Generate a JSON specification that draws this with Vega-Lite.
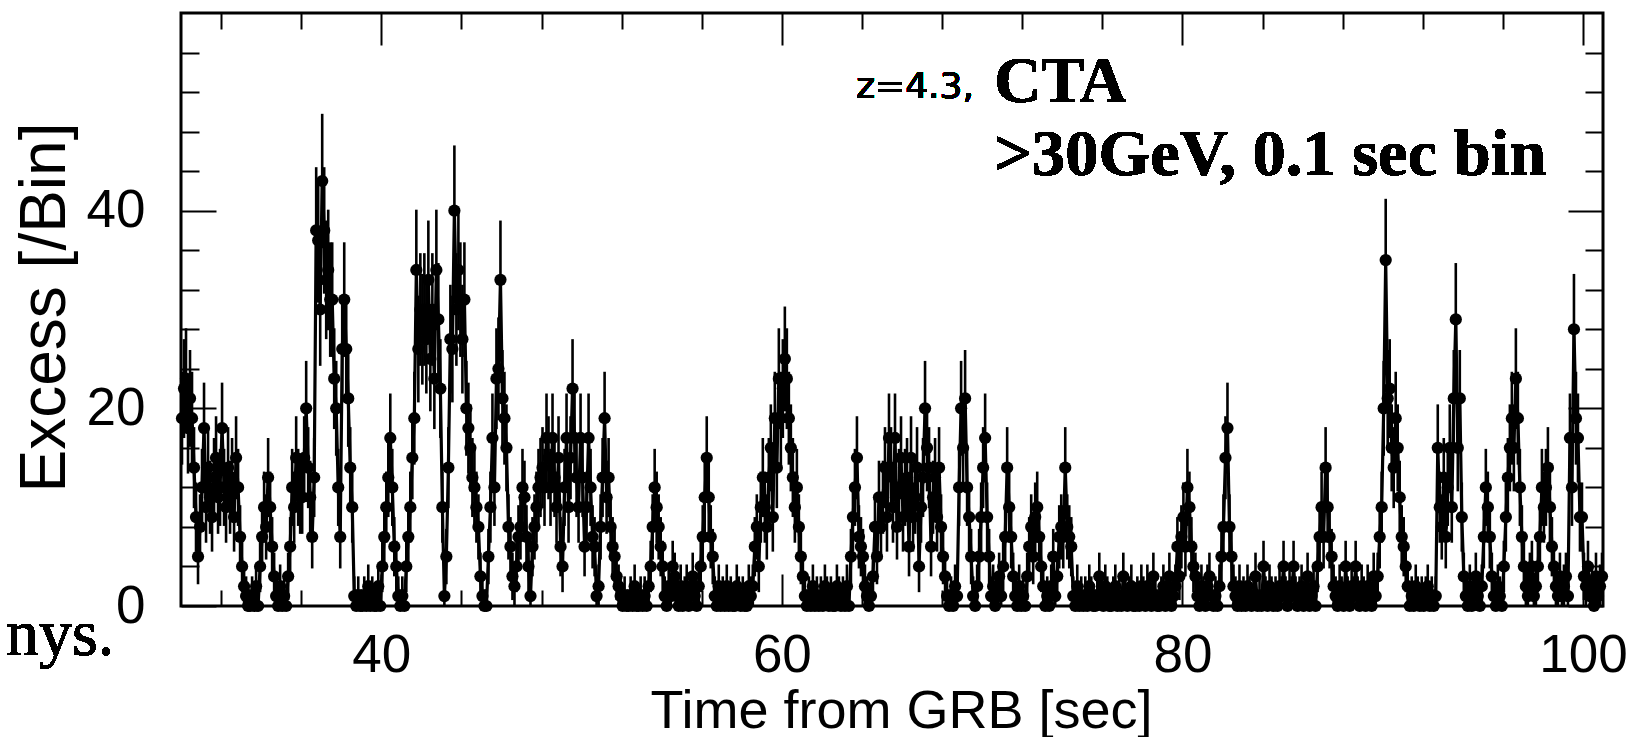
{
"$schema": "https://vega.github.io/schema/vega-lite/v6.json",
"width": 1422,
"height": 593,
"autosize": {"type": "none"},
"padding": {"left": 181, "top": 13, "right": 46, "bottom": 131},
"background": "white",
"config": {"view": {"stroke": "black", "strokeWidth": 3}, "font": "Liberation Sans"},
"data": {"values": [
{"t":30.05,"v":19,"e":4.7},{"t":30.15,"v":22,"e":5.0},{"t":30.25,"v":23,"e":5.1},{"t":30.35,"v":18,"e":4.6},{"t":30.45,"v":21,"e":4.9},{"t":30.55,"v":19,"e":4.7},{"t":30.65,"v":14,"e":4.1},{"t":30.75,"v":9,"e":3.5},{"t":30.85,"v":5,"e":2.8},{"t":30.95,"v":8,"e":3.3},
{"t":31.05,"v":12,"e":3.9},{"t":31.15,"v":18,"e":4.6},{"t":31.25,"v":10,"e":3.6},{"t":31.35,"v":14,"e":4.1},{"t":31.45,"v":11,"e":3.7},{"t":31.55,"v":9,"e":3.5},{"t":31.65,"v":13,"e":4.0},{"t":31.75,"v":15,"e":4.2},{"t":31.85,"v":11,"e":3.7},{"t":31.95,"v":12,"e":3.9},
{"t":32.05,"v":18,"e":4.6},{"t":32.15,"v":12,"e":3.9},{"t":32.25,"v":10,"e":3.6},{"t":32.35,"v":14,"e":4.1},{"t":32.45,"v":11,"e":3.7},{"t":32.55,"v":13,"e":4.0},{"t":32.65,"v":9,"e":3.5},{"t":32.75,"v":15,"e":4.2},{"t":32.85,"v":12,"e":3.9},{"t":32.95,"v":7,"e":3.2},
{"t":33.05,"v":4,"e":2.6},{"t":33.15,"v":2,"e":2.2},{"t":33.25,"v":1,"e":2.0},{"t":33.35,"v":0,"e":1.7},{"t":33.45,"v":0,"e":1.7},{"t":33.55,"v":1,"e":2.0},{"t":33.65,"v":0,"e":1.7},{"t":33.75,"v":2,"e":2.2},{"t":33.85,"v":0,"e":1.7},{"t":33.95,"v":4,"e":2.6},
{"t":34.05,"v":7,"e":3.2},{"t":34.15,"v":10,"e":3.6},{"t":34.25,"v":8,"e":3.3},{"t":34.35,"v":13,"e":4.0},{"t":34.45,"v":10,"e":3.6},{"t":34.55,"v":6,"e":3.0},{"t":34.65,"v":3,"e":2.4},{"t":34.75,"v":1,"e":2.0},{"t":34.85,"v":0,"e":1.7},{"t":34.95,"v":2,"e":2.2},
{"t":35.05,"v":0,"e":1.7},{"t":35.15,"v":1,"e":2.0},{"t":35.25,"v":0,"e":1.7},{"t":35.35,"v":3,"e":2.4},{"t":35.45,"v":6,"e":3.0},{"t":35.55,"v":12,"e":3.9},{"t":35.65,"v":10,"e":3.6},{"t":35.75,"v":15,"e":4.2},{"t":35.85,"v":12,"e":3.9},{"t":35.95,"v":11,"e":3.7},
{"t":36.05,"v":11,"e":3.7},{"t":36.15,"v":15,"e":4.2},{"t":36.25,"v":20,"e":4.8},{"t":36.35,"v":14,"e":4.1},{"t":36.45,"v":11,"e":3.7},{"t":36.55,"v":7,"e":3.2},{"t":36.65,"v":13,"e":4.0},{"t":36.75,"v":38,"e":6.4},{"t":36.85,"v":37,"e":6.3},{"t":36.95,"v":30,"e":5.7},
{"t":37.05,"v":43,"e":6.8},{"t":37.15,"v":38,"e":6.4},{"t":37.25,"v":33,"e":6.0},{"t":37.35,"v":34,"e":6.1},{"t":37.45,"v":31,"e":5.8},{"t":37.55,"v":31,"e":5.8},{"t":37.65,"v":23,"e":5.1},{"t":37.75,"v":20,"e":4.8},{"t":37.85,"v":12,"e":3.9},{"t":37.95,"v":7,"e":3.2},
{"t":38.05,"v":26,"e":5.4},{"t":38.15,"v":31,"e":5.8},{"t":38.25,"v":26,"e":5.4},{"t":38.35,"v":21,"e":4.9},{"t":38.45,"v":14,"e":4.1},{"t":38.55,"v":10,"e":3.6},{"t":38.65,"v":1,"e":2.0},{"t":38.75,"v":0,"e":1.7},{"t":38.85,"v":1,"e":2.0},{"t":38.95,"v":0,"e":1.7},
{"t":39.05,"v":0,"e":1.7},{"t":39.15,"v":1,"e":2.0},{"t":39.25,"v":0,"e":1.7},{"t":39.35,"v":2,"e":2.2},{"t":39.45,"v":0,"e":1.7},{"t":39.55,"v":1,"e":2.0},{"t":39.65,"v":0,"e":1.7},{"t":39.75,"v":0,"e":1.7},{"t":39.85,"v":2,"e":2.2},{"t":39.95,"v":0,"e":1.7},
{"t":40.05,"v":4,"e":2.6},{"t":40.15,"v":7,"e":3.2},{"t":40.25,"v":10,"e":3.6},{"t":40.35,"v":13,"e":4.0},{"t":40.45,"v":17,"e":4.5},{"t":40.55,"v":12,"e":3.9},{"t":40.65,"v":6,"e":3.0},{"t":40.75,"v":4,"e":2.6},{"t":40.85,"v":1,"e":2.0},{"t":40.95,"v":0,"e":1.7},
{"t":41.05,"v":1,"e":2.0},{"t":41.15,"v":0,"e":1.7},{"t":41.25,"v":4,"e":2.6},{"t":41.35,"v":7,"e":3.2},{"t":41.45,"v":10,"e":3.6},{"t":41.55,"v":15,"e":4.2},{"t":41.65,"v":19,"e":4.7},{"t":41.75,"v":34,"e":6.1},{"t":41.85,"v":26,"e":5.4},{"t":41.95,"v":30,"e":5.7},
{"t":42.05,"v":28,"e":5.6},{"t":42.15,"v":30,"e":5.7},{"t":42.25,"v":27,"e":5.5},{"t":42.35,"v":33,"e":6.0},{"t":42.45,"v":25,"e":5.3},{"t":42.55,"v":30,"e":5.7},{"t":42.65,"v":23,"e":5.1},{"t":42.75,"v":34,"e":6.1},{"t":42.85,"v":29,"e":5.7},{"t":42.95,"v":22,"e":5.0},
{"t":43.05,"v":10,"e":3.6},{"t":43.15,"v":1,"e":2.0},{"t":43.25,"v":5,"e":2.8},{"t":43.35,"v":14,"e":4.1},{"t":43.45,"v":27,"e":5.5},{"t":43.55,"v":26,"e":5.4},{"t":43.65,"v":40,"e":6.6},{"t":43.75,"v":30,"e":5.7},{"t":43.85,"v":34,"e":6.1},{"t":43.95,"v":31,"e":5.8},
{"t":44.05,"v":27,"e":5.5},{"t":44.15,"v":31,"e":5.8},{"t":44.25,"v":20,"e":4.8},{"t":44.35,"v":18,"e":4.6},{"t":44.45,"v":16,"e":4.4},{"t":44.55,"v":13,"e":4.0},{"t":44.65,"v":12,"e":3.9},{"t":44.75,"v":10,"e":3.6},{"t":44.85,"v":8,"e":3.3},{"t":44.95,"v":3,"e":2.4},
{"t":45.05,"v":1,"e":2.0},{"t":45.15,"v":0,"e":1.7},{"t":45.25,"v":0,"e":1.7},{"t":45.35,"v":5,"e":2.8},{"t":45.45,"v":10,"e":3.6},{"t":45.55,"v":17,"e":4.5},{"t":45.65,"v":12,"e":3.9},{"t":45.75,"v":23,"e":5.1},{"t":45.85,"v":24,"e":5.2},{"t":45.95,"v":33,"e":6.0},
{"t":46.05,"v":21,"e":4.9},{"t":46.15,"v":19,"e":4.7},{"t":46.25,"v":16,"e":4.4},{"t":46.35,"v":8,"e":3.3},{"t":46.45,"v":6,"e":3.0},{"t":46.55,"v":3,"e":2.4},{"t":46.65,"v":2,"e":2.2},{"t":46.75,"v":4,"e":2.6},{"t":46.85,"v":7,"e":3.2},{"t":46.95,"v":8,"e":3.3},
{"t":47.05,"v":12,"e":3.9},{"t":47.15,"v":11,"e":3.7},{"t":47.25,"v":7,"e":3.2},{"t":47.35,"v":4,"e":2.6},{"t":47.45,"v":1,"e":2.0},{"t":47.55,"v":6,"e":3.0},{"t":47.65,"v":8,"e":3.3},{"t":47.75,"v":10,"e":3.6},{"t":47.85,"v":12,"e":3.9},{"t":47.95,"v":13,"e":4.0},
{"t":48.05,"v":14,"e":4.1},{"t":48.15,"v":12,"e":3.9},{"t":48.25,"v":17,"e":4.5},{"t":48.35,"v":15,"e":4.2},{"t":48.45,"v":12,"e":3.9},{"t":48.55,"v":17,"e":4.5},{"t":48.65,"v":13,"e":4.0},{"t":48.75,"v":10,"e":3.6},{"t":48.85,"v":15,"e":4.2},{"t":48.95,"v":6,"e":3.0},
{"t":49.05,"v":4,"e":2.6},{"t":49.15,"v":12,"e":3.9},{"t":49.25,"v":17,"e":4.5},{"t":49.35,"v":10,"e":3.6},{"t":49.45,"v":15,"e":4.2},{"t":49.55,"v":22,"e":5.0},{"t":49.65,"v":17,"e":4.5},{"t":49.75,"v":13,"e":4.0},{"t":49.85,"v":10,"e":3.6},{"t":49.95,"v":17,"e":4.5},
{"t":50.05,"v":13,"e":4.0},{"t":50.15,"v":6,"e":3.0},{"t":50.25,"v":10,"e":3.6},{"t":50.35,"v":17,"e":4.5},{"t":50.45,"v":12,"e":3.9},{"t":50.55,"v":7,"e":3.2},{"t":50.65,"v":6,"e":3.0},{"t":50.75,"v":1,"e":2.0},{"t":50.85,"v":2,"e":2.2},{"t":50.95,"v":8,"e":3.3},
{"t":51.05,"v":13,"e":4.0},{"t":51.15,"v":19,"e":4.7},{"t":51.25,"v":11,"e":3.7},{"t":51.35,"v":13,"e":4.0},{"t":51.45,"v":8,"e":3.3},{"t":51.55,"v":6,"e":3.0},{"t":51.65,"v":5,"e":2.8},{"t":51.75,"v":3,"e":2.4},{"t":51.85,"v":2,"e":2.2},{"t":51.95,"v":1,"e":2.0},
{"t":52.05,"v":0,"e":1.7},{"t":52.15,"v":1,"e":2.0},{"t":52.25,"v":0,"e":1.7},{"t":52.35,"v":0,"e":1.7},{"t":52.45,"v":1,"e":2.0},{"t":52.55,"v":0,"e":1.7},{"t":52.65,"v":2,"e":2.2},{"t":52.75,"v":0,"e":1.7},{"t":52.85,"v":0,"e":1.7},{"t":52.95,"v":1,"e":2.0},
{"t":53.05,"v":0,"e":1.7},{"t":53.15,"v":1,"e":2.0},{"t":53.25,"v":0,"e":1.7},{"t":53.35,"v":2,"e":2.2},{"t":53.45,"v":4,"e":2.6},{"t":53.55,"v":8,"e":3.3},{"t":53.65,"v":12,"e":3.9},{"t":53.75,"v":10,"e":3.6},{"t":53.85,"v":8,"e":3.3},{"t":53.95,"v":6,"e":3.0},
{"t":54.05,"v":4,"e":2.6},{"t":54.15,"v":1,"e":2.0},{"t":54.25,"v":0,"e":1.7},{"t":54.35,"v":2,"e":2.2},{"t":54.45,"v":1,"e":2.0},{"t":54.55,"v":4,"e":2.6},{"t":54.65,"v":3,"e":2.4},{"t":54.75,"v":1,"e":2.0},{"t":54.85,"v":0,"e":1.7},{"t":54.95,"v":2,"e":2.2},
{"t":55.05,"v":0,"e":1.7},{"t":55.15,"v":1,"e":2.0},{"t":55.25,"v":2,"e":2.2},{"t":55.35,"v":0,"e":1.7},{"t":55.45,"v":1,"e":2.0},{"t":55.55,"v":3,"e":2.4},{"t":55.65,"v":1,"e":2.0},{"t":55.75,"v":0,"e":1.7},{"t":55.85,"v":2,"e":2.2},{"t":55.95,"v":4,"e":2.6},
{"t":56.05,"v":7,"e":3.2},{"t":56.15,"v":11,"e":3.7},{"t":56.25,"v":15,"e":4.2},{"t":56.35,"v":11,"e":3.7},{"t":56.45,"v":7,"e":3.2},{"t":56.55,"v":5,"e":2.8},{"t":56.65,"v":1,"e":2.0},{"t":56.75,"v":0,"e":1.7},{"t":56.85,"v":2,"e":2.2},{"t":56.95,"v":0,"e":1.7},
{"t":57.05,"v":1,"e":2.0},{"t":57.15,"v":0,"e":1.7},{"t":57.25,"v":2,"e":2.2},{"t":57.35,"v":0,"e":1.7},{"t":57.45,"v":1,"e":2.0},{"t":57.55,"v":0,"e":1.7},{"t":57.65,"v":0,"e":1.7},{"t":57.75,"v":2,"e":2.2},{"t":57.85,"v":1,"e":2.0},{"t":57.95,"v":0,"e":1.7},
{"t":58.05,"v":1,"e":2.0},{"t":58.15,"v":0,"e":1.7},{"t":58.25,"v":0,"e":1.7},{"t":58.35,"v":2,"e":2.2},{"t":58.45,"v":1,"e":2.0},{"t":58.55,"v":2,"e":2.2},{"t":58.65,"v":6,"e":3.0},{"t":58.75,"v":8,"e":3.3},{"t":58.85,"v":4,"e":2.6},{"t":58.95,"v":10,"e":3.6},
{"t":59.05,"v":13,"e":4.0},{"t":59.15,"v":10,"e":3.6},{"t":59.25,"v":8,"e":3.3},{"t":59.35,"v":13,"e":4.0},{"t":59.45,"v":16,"e":4.4},{"t":59.55,"v":9,"e":3.5},{"t":59.65,"v":19,"e":4.7},{"t":59.75,"v":14,"e":4.1},{"t":59.85,"v":23,"e":5.1},{"t":59.95,"v":19,"e":4.7},
{"t":60.05,"v":22,"e":5.0},{"t":60.15,"v":25,"e":5.3},{"t":60.25,"v":23,"e":5.1},{"t":60.35,"v":19,"e":4.7},{"t":60.45,"v":16,"e":4.4},{"t":60.55,"v":13,"e":4.0},{"t":60.65,"v":10,"e":3.6},{"t":60.75,"v":12,"e":3.9},{"t":60.85,"v":8,"e":3.3},{"t":60.95,"v":5,"e":2.8},
{"t":61.05,"v":3,"e":2.4},{"t":61.15,"v":1,"e":2.0},{"t":61.25,"v":0,"e":1.7},{"t":61.35,"v":1,"e":2.0},{"t":61.45,"v":0,"e":1.7},{"t":61.55,"v":2,"e":2.2},{"t":61.65,"v":0,"e":1.7},{"t":61.75,"v":1,"e":2.0},{"t":61.85,"v":0,"e":1.7},{"t":61.95,"v":1,"e":2.0},
{"t":62.05,"v":0,"e":1.7},{"t":62.15,"v":2,"e":2.2},{"t":62.25,"v":1,"e":2.0},{"t":62.35,"v":0,"e":1.7},{"t":62.45,"v":1,"e":2.0},{"t":62.55,"v":0,"e":1.7},{"t":62.65,"v":0,"e":1.7},{"t":62.75,"v":2,"e":2.2},{"t":62.85,"v":1,"e":2.0},{"t":62.95,"v":0,"e":1.7},
{"t":63.05,"v":1,"e":2.0},{"t":63.15,"v":0,"e":1.7},{"t":63.25,"v":2,"e":2.2},{"t":63.35,"v":0,"e":1.7},{"t":63.45,"v":5,"e":2.8},{"t":63.55,"v":9,"e":3.5},{"t":63.65,"v":12,"e":3.9},{"t":63.75,"v":15,"e":4.2},{"t":63.85,"v":7,"e":3.2},{"t":63.95,"v":6,"e":3.0},
{"t":64.05,"v":5,"e":2.8},{"t":64.15,"v":2,"e":2.2},{"t":64.25,"v":1,"e":2.0},{"t":64.35,"v":0,"e":1.7},{"t":64.45,"v":1,"e":2.0},{"t":64.55,"v":3,"e":2.4},{"t":64.65,"v":8,"e":3.3},{"t":64.75,"v":5,"e":2.8},{"t":64.85,"v":11,"e":3.7},{"t":64.95,"v":8,"e":3.3},
{"t":65.05,"v":11,"e":3.7},{"t":65.15,"v":14,"e":4.1},{"t":65.25,"v":9,"e":3.5},{"t":65.35,"v":17,"e":4.5},{"t":65.45,"v":14,"e":4.1},{"t":65.55,"v":10,"e":3.6},{"t":65.65,"v":17,"e":4.5},{"t":65.75,"v":8,"e":3.3},{"t":65.85,"v":12,"e":3.9},{"t":65.95,"v":15,"e":4.2},
{"t":66.05,"v":9,"e":3.5},{"t":66.15,"v":12,"e":3.9},{"t":66.25,"v":13,"e":4.0},{"t":66.35,"v":6,"e":3.0},{"t":66.45,"v":15,"e":4.2},{"t":66.55,"v":9,"e":3.5},{"t":66.65,"v":11,"e":3.7},{"t":66.75,"v":14,"e":4.1},{"t":66.85,"v":4,"e":2.6},{"t":66.95,"v":10,"e":3.6},
{"t":67.05,"v":13,"e":4.0},{"t":67.15,"v":20,"e":4.8},{"t":67.25,"v":16,"e":4.4},{"t":67.35,"v":14,"e":4.1},{"t":67.45,"v":6,"e":3.0},{"t":67.55,"v":11,"e":3.7},{"t":67.65,"v":13,"e":4.0},{"t":67.75,"v":9,"e":3.5},{"t":67.85,"v":14,"e":4.1},{"t":67.95,"v":8,"e":3.3},
{"t":68.05,"v":5,"e":2.8},{"t":68.15,"v":3,"e":2.4},{"t":68.25,"v":1,"e":2.0},{"t":68.35,"v":0,"e":1.7},{"t":68.45,"v":1,"e":2.0},{"t":68.55,"v":0,"e":1.7},{"t":68.65,"v":2,"e":2.2},{"t":68.75,"v":1,"e":2.0},{"t":68.85,"v":12,"e":3.9},{"t":68.95,"v":20,"e":4.8},
{"t":69.05,"v":16,"e":4.4},{"t":69.15,"v":21,"e":4.9},{"t":69.25,"v":12,"e":3.9},{"t":69.35,"v":9,"e":3.5},{"t":69.45,"v":5,"e":2.8},{"t":69.55,"v":1,"e":2.0},{"t":69.65,"v":0,"e":1.7},{"t":69.75,"v":2,"e":2.2},{"t":69.85,"v":5,"e":2.8},{"t":69.95,"v":9,"e":3.5},
{"t":70.05,"v":14,"e":4.1},{"t":70.15,"v":17,"e":4.5},{"t":70.25,"v":9,"e":3.5},{"t":70.35,"v":5,"e":2.8},{"t":70.45,"v":1,"e":2.0},{"t":70.55,"v":2,"e":2.2},{"t":70.65,"v":0,"e":1.7},{"t":70.75,"v":1,"e":2.0},{"t":70.85,"v":3,"e":2.4},{"t":70.95,"v":1,"e":2.0},
{"t":71.05,"v":4,"e":2.6},{"t":71.15,"v":7,"e":3.2},{"t":71.25,"v":14,"e":4.1},{"t":71.35,"v":10,"e":3.6},{"t":71.45,"v":7,"e":3.2},{"t":71.55,"v":3,"e":2.4},{"t":71.65,"v":1,"e":2.0},{"t":71.75,"v":0,"e":1.7},{"t":71.85,"v":2,"e":2.2},{"t":71.95,"v":0,"e":1.7},
{"t":72.05,"v":1,"e":2.0},{"t":72.15,"v":0,"e":1.7},{"t":72.25,"v":3,"e":2.4},{"t":72.35,"v":6,"e":3.0},{"t":72.45,"v":8,"e":3.3},{"t":72.55,"v":5,"e":2.8},{"t":72.65,"v":9,"e":3.5},{"t":72.75,"v":10,"e":3.6},{"t":72.85,"v":7,"e":3.2},{"t":72.95,"v":4,"e":2.6},
{"t":73.05,"v":2,"e":2.2},{"t":73.15,"v":0,"e":1.7},{"t":73.25,"v":1,"e":2.0},{"t":73.35,"v":0,"e":1.7},{"t":73.45,"v":2,"e":2.2},{"t":73.55,"v":5,"e":2.8},{"t":73.65,"v":1,"e":2.0},{"t":73.75,"v":3,"e":2.4},{"t":73.85,"v":7,"e":3.2},{"t":73.95,"v":8,"e":3.3},
{"t":74.05,"v":7,"e":3.2},{"t":74.15,"v":14,"e":4.1},{"t":74.25,"v":8,"e":3.3},{"t":74.35,"v":7,"e":3.2},{"t":74.45,"v":6,"e":3.0},{"t":74.55,"v":1,"e":2.0},{"t":74.65,"v":0,"e":1.7},{"t":74.75,"v":2,"e":2.2},{"t":74.85,"v":0,"e":1.7},{"t":74.95,"v":1,"e":2.0},
{"t":75.05,"v":0,"e":1.7},{"t":75.15,"v":1,"e":2.0},{"t":75.25,"v":0,"e":1.7},{"t":75.35,"v":2,"e":2.2},{"t":75.45,"v":1,"e":2.0},{"t":75.55,"v":0,"e":1.7},{"t":75.65,"v":0,"e":1.7},{"t":75.75,"v":1,"e":2.0},{"t":75.85,"v":3,"e":2.4},{"t":75.95,"v":1,"e":2.0},
{"t":76.05,"v":0,"e":1.7},{"t":76.15,"v":2,"e":2.2},{"t":76.25,"v":1,"e":2.0},{"t":76.35,"v":0,"e":1.7},{"t":76.45,"v":0,"e":1.7},{"t":76.55,"v":1,"e":2.0},{"t":76.65,"v":2,"e":2.2},{"t":76.75,"v":0,"e":1.7},{"t":76.85,"v":1,"e":2.0},{"t":76.95,"v":0,"e":1.7},
{"t":77.05,"v":3,"e":2.4},{"t":77.15,"v":1,"e":2.0},{"t":77.25,"v":0,"e":1.7},{"t":77.35,"v":1,"e":2.0},{"t":77.45,"v":2,"e":2.2},{"t":77.55,"v":0,"e":1.7},{"t":77.65,"v":0,"e":1.7},{"t":77.75,"v":1,"e":2.0},{"t":77.85,"v":0,"e":1.7},{"t":77.95,"v":2,"e":2.2},
{"t":78.05,"v":1,"e":2.0},{"t":78.15,"v":0,"e":1.7},{"t":78.25,"v":2,"e":2.2},{"t":78.35,"v":1,"e":2.0},{"t":78.45,"v":0,"e":1.7},{"t":78.55,"v":3,"e":2.4},{"t":78.65,"v":1,"e":2.0},{"t":78.75,"v":0,"e":1.7},{"t":78.85,"v":0,"e":1.7},{"t":78.95,"v":1,"e":2.0},
{"t":79.05,"v":2,"e":2.2},{"t":79.15,"v":0,"e":1.7},{"t":79.25,"v":1,"e":2.0},{"t":79.35,"v":3,"e":2.4},{"t":79.45,"v":0,"e":1.7},{"t":79.55,"v":1,"e":2.0},{"t":79.65,"v":2,"e":2.2},{"t":79.75,"v":6,"e":3.0},{"t":79.85,"v":3,"e":2.4},{"t":79.95,"v":7,"e":3.2},
{"t":80.05,"v":9,"e":3.5},{"t":80.15,"v":6,"e":3.0},{"t":80.25,"v":12,"e":3.9},{"t":80.35,"v":10,"e":3.6},{"t":80.45,"v":6,"e":3.0},{"t":80.55,"v":4,"e":2.6},{"t":80.65,"v":3,"e":2.4},{"t":80.75,"v":1,"e":2.0},{"t":80.85,"v":0,"e":1.7},{"t":80.95,"v":2,"e":2.2},
{"t":81.05,"v":1,"e":2.0},{"t":81.15,"v":0,"e":1.7},{"t":81.25,"v":2,"e":2.2},{"t":81.35,"v":3,"e":2.4},{"t":81.45,"v":1,"e":2.0},{"t":81.55,"v":0,"e":1.7},{"t":81.65,"v":1,"e":2.0},{"t":81.75,"v":0,"e":1.7},{"t":81.85,"v":2,"e":2.2},{"t":81.95,"v":5,"e":2.8},
{"t":82.05,"v":8,"e":3.3},{"t":82.15,"v":15,"e":4.2},{"t":82.25,"v":18,"e":4.6},{"t":82.35,"v":8,"e":3.3},{"t":82.45,"v":5,"e":2.8},{"t":82.55,"v":2,"e":2.2},{"t":82.65,"v":1,"e":2.0},{"t":82.75,"v":0,"e":1.7},{"t":82.85,"v":2,"e":2.2},{"t":82.95,"v":0,"e":1.7},
{"t":83.05,"v":1,"e":2.0},{"t":83.15,"v":0,"e":1.7},{"t":83.25,"v":2,"e":2.2},{"t":83.35,"v":1,"e":2.0},{"t":83.45,"v":0,"e":1.7},{"t":83.55,"v":1,"e":2.0},{"t":83.65,"v":3,"e":2.4},{"t":83.75,"v":0,"e":1.7},{"t":83.85,"v":1,"e":2.0},{"t":83.95,"v":0,"e":1.7},
{"t":84.05,"v":4,"e":2.6},{"t":84.15,"v":1,"e":2.0},{"t":84.25,"v":0,"e":1.7},{"t":84.35,"v":2,"e":2.2},{"t":84.45,"v":1,"e":2.0},{"t":84.55,"v":0,"e":1.7},{"t":84.65,"v":1,"e":2.0},{"t":84.75,"v":0,"e":1.7},{"t":84.85,"v":2,"e":2.2},{"t":84.95,"v":1,"e":2.0},
{"t":85.05,"v":4,"e":2.6},{"t":85.15,"v":1,"e":2.0},{"t":85.25,"v":0,"e":1.7},{"t":85.35,"v":2,"e":2.2},{"t":85.45,"v":1,"e":2.0},{"t":85.55,"v":4,"e":2.6},{"t":85.65,"v":1,"e":2.0},{"t":85.75,"v":0,"e":1.7},{"t":85.85,"v":1,"e":2.0},{"t":85.95,"v":2,"e":2.2},
{"t":86.05,"v":0,"e":1.7},{"t":86.15,"v":1,"e":2.0},{"t":86.25,"v":3,"e":2.4},{"t":86.35,"v":0,"e":1.7},{"t":86.45,"v":1,"e":2.0},{"t":86.55,"v":2,"e":2.2},{"t":86.65,"v":0,"e":1.7},{"t":86.75,"v":4,"e":2.6},{"t":86.85,"v":7,"e":3.2},{"t":86.95,"v":10,"e":3.6},
{"t":87.05,"v":7,"e":3.2},{"t":87.15,"v":14,"e":4.1},{"t":87.25,"v":10,"e":3.6},{"t":87.35,"v":7,"e":3.2},{"t":87.45,"v":5,"e":2.8},{"t":87.55,"v":2,"e":2.2},{"t":87.65,"v":1,"e":2.0},{"t":87.75,"v":0,"e":1.7},{"t":87.85,"v":2,"e":2.2},{"t":87.95,"v":1,"e":2.0},
{"t":88.05,"v":0,"e":1.7},{"t":88.15,"v":4,"e":2.6},{"t":88.25,"v":1,"e":2.0},{"t":88.35,"v":0,"e":1.7},{"t":88.45,"v":2,"e":2.2},{"t":88.55,"v":1,"e":2.0},{"t":88.65,"v":4,"e":2.6},{"t":88.75,"v":1,"e":2.0},{"t":88.85,"v":0,"e":1.7},{"t":88.95,"v":2,"e":2.2},
{"t":89.05,"v":1,"e":2.0},{"t":89.15,"v":0,"e":1.7},{"t":89.25,"v":2,"e":2.2},{"t":89.35,"v":1,"e":2.0},{"t":89.45,"v":0,"e":1.7},{"t":89.55,"v":3,"e":2.4},{"t":89.65,"v":1,"e":2.0},{"t":89.75,"v":3,"e":2.4},{"t":89.85,"v":7,"e":3.2},{"t":89.95,"v":10,"e":3.6},
{"t":90.05,"v":20,"e":4.8},{"t":90.15,"v":35,"e":6.2},{"t":90.25,"v":21,"e":4.9},{"t":90.35,"v":22,"e":5.0},{"t":90.45,"v":16,"e":4.4},{"t":90.55,"v":14,"e":4.1},{"t":90.65,"v":19,"e":4.7},{"t":90.75,"v":16,"e":4.4},{"t":90.85,"v":11,"e":3.7},{"t":90.95,"v":7,"e":3.2},
{"t":91.05,"v":6,"e":3.0},{"t":91.15,"v":4,"e":2.6},{"t":91.25,"v":2,"e":2.2},{"t":91.35,"v":0,"e":1.7},{"t":91.45,"v":1,"e":2.0},{"t":91.55,"v":0,"e":1.7},{"t":91.65,"v":2,"e":2.2},{"t":91.75,"v":1,"e":2.0},{"t":91.85,"v":0,"e":1.7},{"t":91.95,"v":1,"e":2.0},
{"t":92.05,"v":0,"e":1.7},{"t":92.15,"v":1,"e":2.0},{"t":92.25,"v":2,"e":2.2},{"t":92.35,"v":0,"e":1.7},{"t":92.45,"v":1,"e":2.0},{"t":92.55,"v":0,"e":1.7},{"t":92.65,"v":1,"e":2.0},{"t":92.75,"v":16,"e":4.4},{"t":92.85,"v":10,"e":3.6},{"t":92.95,"v":8,"e":3.3},
{"t":93.05,"v":13,"e":4.0},{"t":93.15,"v":7,"e":3.2},{"t":93.25,"v":12,"e":3.9},{"t":93.35,"v":16,"e":4.4},{"t":93.45,"v":10,"e":3.6},{"t":93.55,"v":21,"e":4.9},{"t":93.65,"v":29,"e":5.7},{"t":93.75,"v":16,"e":4.4},{"t":93.85,"v":21,"e":4.9},{"t":93.95,"v":9,"e":3.5},
{"t":94.05,"v":3,"e":2.4},{"t":94.15,"v":1,"e":2.0},{"t":94.25,"v":0,"e":1.7},{"t":94.35,"v":2,"e":2.2},{"t":94.45,"v":0,"e":1.7},{"t":94.55,"v":1,"e":2.0},{"t":94.65,"v":3,"e":2.4},{"t":94.75,"v":1,"e":2.0},{"t":94.85,"v":0,"e":1.7},{"t":94.95,"v":2,"e":2.2},
{"t":95.05,"v":7,"e":3.2},{"t":95.15,"v":12,"e":3.9},{"t":95.25,"v":10,"e":3.6},{"t":95.35,"v":7,"e":3.2},{"t":95.45,"v":3,"e":2.4},{"t":95.55,"v":1,"e":2.0},{"t":95.65,"v":0,"e":1.7},{"t":95.75,"v":2,"e":2.2},{"t":95.85,"v":1,"e":2.0},{"t":95.95,"v":0,"e":1.7},
{"t":96.05,"v":4,"e":2.6},{"t":96.15,"v":9,"e":3.5},{"t":96.25,"v":13,"e":4.0},{"t":96.35,"v":16,"e":4.4},{"t":96.45,"v":19,"e":4.7},{"t":96.55,"v":16,"e":4.4},{"t":96.65,"v":23,"e":5.1},{"t":96.75,"v":19,"e":4.7},{"t":96.85,"v":12,"e":3.9},{"t":96.95,"v":7,"e":3.2},
{"t":97.05,"v":4,"e":2.6},{"t":97.15,"v":2,"e":2.2},{"t":97.25,"v":1,"e":2.0},{"t":97.35,"v":3,"e":2.4},{"t":97.45,"v":4,"e":2.6},{"t":97.55,"v":1,"e":2.0},{"t":97.65,"v":2,"e":2.2},{"t":97.75,"v":4,"e":2.6},{"t":97.85,"v":7,"e":3.2},{"t":97.95,"v":12,"e":3.9},
{"t":98.05,"v":10,"e":3.6},{"t":98.15,"v":12,"e":3.9},{"t":98.25,"v":14,"e":4.1},{"t":98.35,"v":10,"e":3.6},{"t":98.45,"v":6,"e":3.0},{"t":98.55,"v":4,"e":2.6},{"t":98.65,"v":2,"e":2.2},{"t":98.75,"v":1,"e":2.0},{"t":98.85,"v":3,"e":2.4},{"t":98.95,"v":1,"e":2.0},
{"t":99.05,"v":2,"e":2.2},{"t":99.15,"v":3,"e":2.4},{"t":99.25,"v":1,"e":2.0},{"t":99.35,"v":17,"e":4.5},{"t":99.45,"v":12,"e":3.9},{"t":99.55,"v":28,"e":5.6},{"t":99.65,"v":19,"e":4.7},{"t":99.75,"v":17,"e":4.5},{"t":99.85,"v":9,"e":3.5},{"t":99.95,"v":9,"e":3.5},
{"t":100.05,"v":3,"e":2.4},{"t":100.15,"v":2,"e":2.2},{"t":100.25,"v":4,"e":2.6},{"t":100.35,"v":1,"e":2.0},{"t":100.45,"v":2,"e":2.2},{"t":100.55,"v":0,"e":1.7},{"t":100.65,"v":3,"e":2.4},{"t":100.75,"v":1,"e":2.0},{"t":100.85,"v":2,"e":2.2},{"t":100.95,"v":3,"e":2.4}
]},
"encoding": {
  "x": {"field": "t", "type": "quantitative",
    "scale": {"domain": [30, 101], "nice": false, "zero": false},
    "axis": {
      "values": [32,36,40,44,48,52,56,60,64,68,72,76,80,84,88,92,96,100],
      "labelExpr": "datum.value % 20 === 0 ? datum.label : ''",
      "ticks": false, "domain": false, "labelOverlap": false, "labelFlush": false,
      "grid": true, "gridColor": "black", "gridOpacity": 1, "gridWidth": 2,
      "gridDash": {"condition": {"test": "datum.value % 20 === 0", "value": [32, 529, 32, 2000]}, "value": [16, 561, 16, 2000]},
      "labelFont": "Liberation Sans", "labelFontSize": 53, "labelColor": "black", "labelPadding": 23,
      "title": "Time from GRB [sec]", "titleFont": "Liberation Sans", "titleFontSize": 54, "titleFontWeight": "normal", "titleColor": "black",
      "titleBaseline": "alphabetic", "titleY": 121, "titleX": 720, "titleAlign": "center"
    }},
  "y": {"field": "v", "type": "quantitative",
    "scale": {"domain": [0, 60], "nice": false, "zero": false},
    "axis": {
      "values": [0,4,8,12,16,20,24,28,32,36,40,44,48,52,56],
      "labelExpr": "datum.value % 20 === 0 ? datum.label : ''",
      "ticks": false, "domain": false, "labelOverlap": false, "labelFlush": false,
      "grid": true, "gridColor": "black", "gridOpacity": 1, "gridWidth": 2,
      "gridDash": {"condition": {"test": "datum.value % 20 === 0", "value": [35, 1352, 35, 3000]}, "value": [18, 1386, 18, 3000]},
      "labelFont": "Liberation Sans", "labelFontSize": 53, "labelColor": "black", "labelPadding": 36,
      "title": "Excess [/Bin]", "titleFont": "Liberation Sans", "titleFontSize": 64, "titleFontWeight": "normal", "titleColor": "black",
      "titleBaseline": "alphabetic", "titleX": -117, "titleY": 294, "titleAlign": "center", "titleAngle": -90
    }}
},
"layer": [
  {"mark": {"type": "errorbar", "color": "black", "thickness": 2.6, "clip": true},
   "encoding": {"yError": {"field": "e"}}},
  {"mark": {"type": "line", "color": "black", "strokeWidth": 3.2}},
  {"mark": {"type": "point", "filled": true, "shape": "circle", "size": 150, "color": "black", "opacity": 1}},
  {"mark": {"type": "text", "text": "z=4.3,", "font": "DejaVu Sans", "fontSize": 36, "align": "left", "baseline": "alphabetic", "color": "black"},
   "encoding": {"x": {"datum": 63.71}, "y": {"datum": 51.4}}},
  {"mark": {"type": "text", "text": "CTA", "font": "Liberation Serif", "fontWeight": "bold", "fontSize": 65, "align": "left", "baseline": "alphabetic", "color": "black"},
   "encoding": {"x": {"datum": 70.6}, "y": {"datum": 51.0}}},
  {"mark": {"type": "text", "text": ">30GeV, 0.1 sec bin", "font": "Liberation Serif", "fontWeight": "bold", "fontSize": 66.5, "align": "left", "baseline": "alphabetic", "color": "black"},
   "encoding": {"x": {"datum": 70.6}, "y": {"datum": 43.6}}},
  {"mark": {"type": "text", "text": "nys.", "font": "Liberation Serif", "fontSize": 66, "align": "right", "baseline": "alphabetic", "color": "black", "clip": false},
   "encoding": {"x": {"datum": 26.67}, "y": {"datum": -5.0}}}
]
}
